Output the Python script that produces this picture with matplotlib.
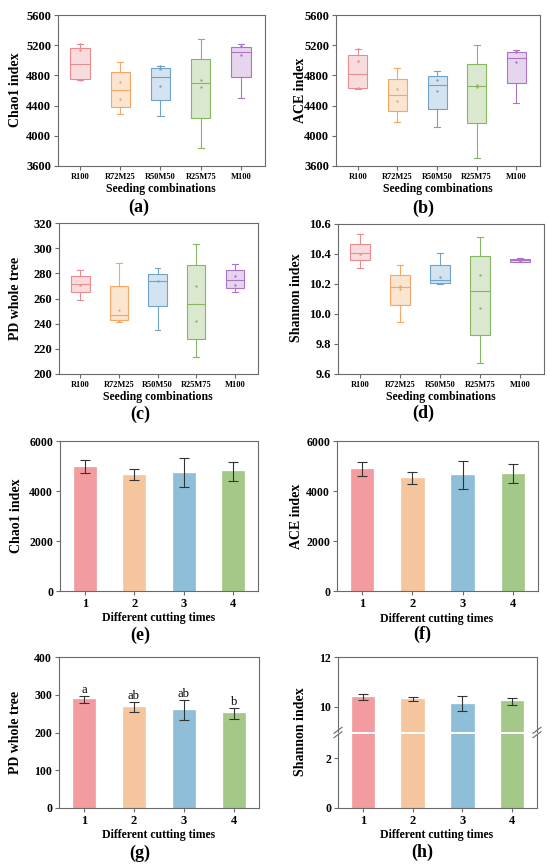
import numpy as np
import matplotlib
matplotlib.use('Agg')
import matplotlib.pyplot as plt
from matplotlib.lines import Line2D
from matplotlib.colors import to_rgba

plt.rcParams['font.family'] = ['Liberation Serif', 'DejaVu Serif']
plt.rcParams['font.weight'] = 'bold'
plt.rcParams['axes.labelweight'] = 'bold'

# ---------------- data ----------------
groups = ['R100', 'R72M25', 'R50M50', 'R25M75', 'M100']
# box stats per group: [whisker low, Q1, median, Q3, whisker high]
chao1_box = [[4740, 4748, 4947, 5167, 5212],
             [4289, 4386, 4602, 4841, 4982],
             [4267, 4470, 4774, 4902, 4929],
             [3834, 4236, 4695, 5013, 5287],
             [4496, 4783, 5114, 5181, 5212]]
chao1_pts = [[5212, 5136, 4740], [4708, 4487], [4920, 4880, 4660],
             [4739, 4642], [5190, 5075]]
ace_box = [[4623, 4632, 4818, 5070, 5145],
           [4181, 4323, 4535, 4756, 4902],
           [4119, 4358, 4667, 4796, 4862],
           [3700, 4164, 4654, 4946, 5207],
           [4429, 4703, 5034, 5114, 5140]]
ace_pts = [[5145, 4995, 4630], [4614, 4460], [4734, 4597],
           [4667, 4641], [5118, 5105, 4972]]
pd_box = [[259.1, 265.2, 271.8, 277.6, 282.9],
          [241.6, 242.6, 247.2, 269.7, 288.5],
          [234.7, 254.0, 273.6, 279.7, 284.2],
          [213.5, 227.5, 255.9, 286.4, 303.0],
          [265.2, 268.3, 274.4, 282.4, 287.7]]
pd_pts = [[270.7], [251.1, 241.9], [274.0], [269.7, 241.9], [277.6, 271.0]]
shannon_box = [[10.310, 10.357, 10.404, 10.466, 10.535],
               [9.950, 10.059, 10.179, 10.257, 10.324],
               [10.201, 10.206, 10.230, 10.326, 10.404],
               [9.676, 9.858, 10.155, 10.388, 10.515],
               [10.345, 10.348, 10.357, 10.365, 10.372]]
shannon_pts = [[10.40], [10.19, 10.168], [10.246], [10.261, 10.039], [10.355]]

cuts = ['1', '2', '3', '4']
chao1_mean = [4978, 4659, 4739, 4792]
chao1_sd = [260, 230, 575, 380]
ace_mean = [4877, 4520, 4639, 4692]
ace_sd = [265, 225, 575, 390]
pd_mean = [287.6, 267.3, 258.4, 250.4]
pd_sd = [10, 13, 26.5, 15]
pd_letters = ['a', 'ab', 'ab', 'b']
shannon_mean = [10.40, 10.315, 10.11, 10.21]
shannon_sd = [0.12, 0.09, 0.30, 0.13]

box_colors = ['#e98c8f', '#f4a765', '#6fa3cc', '#86b661', '#ad74c6']
bar_colors = ['#f29c9f', '#f5c69d', '#8fbfd8', '#a3c887']
spine_col = '#6a6a6a'

# ---------------- layout helpers ----------------
W, H = 550, 867
fig = plt.figure(figsize=(5.5, 8.67), dpi=100)


def rect(l, r, t, b):
    return [l / W, 1 - b / H, (r - l) / W, (b - t) / H]


def style(ax):
    for s in ax.spines.values():
        s.set_color(spine_col)
        s.set_linewidth(0.8)
    ax.tick_params(direction='out', length=3, width=0.8, color=spine_col,
                   top=False, right=False, pad=2)


def labels(ax, xl, yl, xlab_pos, ylab_pos, xfs=8.5, yfs=10):
    ax.set_xlabel(xl, fontsize=xfs, fontweight='bold', va='center')
    ax.set_ylabel(yl, fontsize=yfs, fontweight='bold', va='center')
    ax.xaxis.set_label_coords(xlab_pos[0] / W, 1 - xlab_pos[1] / H,
                              transform=fig.transFigure)
    ax.yaxis.set_label_coords(ylab_pos[0] / W, 1 - ylab_pos[1] / H,
                              transform=fig.transFigure)


def box_panel(r, stats, pts, ylim, yticks, fmt, xl, yl, xlab_pos, ylab_pos,
              tag, tag_pos):
    ax = fig.add_axes(rect(*r))
    pos = np.arange(1, len(groups) + 1)
    bstats = [dict(whislo=s[0], q1=s[1], med=s[2], q3=s[3], whishi=s[4],
                   fliers=[]) for s in stats]
    b = ax.bxp(bstats, positions=pos, widths=0.48, patch_artist=True,
               showfliers=False, capwidths=0.15)
    for i, c in enumerate(box_colors):
        b['boxes'][i].set(facecolor=to_rgba(c, 0.3), edgecolor=c, linewidth=0.8)
        b['medians'][i].set(color=c, linewidth=0.8)
        for k in (2 * i, 2 * i + 1):
            b['whiskers'][k].set(color=c, linewidth=0.8)
            b['caps'][k].set(color=c, linewidth=0.8)
        ax.scatter(np.full(len(pts[i]), pos[i]), pts[i], s=3, color=c,
                   zorder=3, linewidths=0)
    ax.set_xlim(0.45, 5.6)
    ax.set_ylim(*ylim)
    ax.set_yticks(yticks)
    ax.set_yticklabels([fmt.format(v) for v in yticks], fontsize=9,
                       fontweight='bold')
    ax.set_xticks(pos)
    ax.set_xticklabels(groups, fontsize=6, fontweight='bold')
    style(ax)
    labels(ax, xl, yl, xlab_pos, ylab_pos)
    fig.text(tag_pos[0] / W, 1 - tag_pos[1] / H, tag, fontsize=13,
             fontweight='bold', ha='center', va='center')
    return ax


def bar_panel(r, mean, sd, ylim, yticks, xl, yl, xlab_pos, ylab_pos, tag,
              tag_pos, letters=None):
    ax = fig.add_axes(rect(*r))
    pos = np.arange(1, len(cuts) + 1)
    ax.bar(pos, mean, width=0.45, color=bar_colors, edgecolor=bar_colors,
           linewidth=0.5)
    ax.errorbar(pos, mean, yerr=sd, fmt='none', ecolor='#333333',
                elinewidth=0.8, capsize=3.5, capthick=0.8)
    if letters:
        for p, m, s, t in zip(pos, mean, sd, letters):
            ax.annotate(t, (p, m + s), xytext=(0, 0), textcoords='offset points',
                        ha='center', va='bottom', fontsize=9,
                        fontweight='normal')
    ax.set_xlim(0.5, 4.5)
    ax.set_ylim(*ylim)
    ax.set_yticks(yticks)
    ax.set_yticklabels([str(v) for v in yticks], fontsize=8.5,
                       fontweight='bold')
    ax.set_xticks(pos)
    ax.set_xticklabels(cuts, fontsize=9, fontweight='bold')
    style(ax)
    labels(ax, xl, yl, xlab_pos, ylab_pos)
    fig.text(tag_pos[0] / W, 1 - tag_pos[1] / H, tag, fontsize=13,
             fontweight='bold', ha='center', va='center')
    return ax


sc = 'Seeding combinations'
dc = 'Different cutting times'

box_panel((58, 265, 15, 166), chao1_box, chao1_pts, (3600, 5600),
          [3600, 4000, 4400, 4800, 5200, 5600], '{:d}', sc, 'Chao1 index',
          (161, 189), (16, 90), '(a)', (139, 207))
box_panel((336, 540, 15, 166), ace_box, ace_pts, (3600, 5600),
          [3600, 4000, 4400, 4800, 5200, 5600], '{:d}', sc, 'ACE index',
          (438, 189), (300, 90), '(b)', (423, 208))
box_panel((59, 258, 223, 374), pd_box, pd_pts, (200, 320),
          [200, 220, 240, 260, 280, 300, 320], '{:d}', sc, 'PD whole tree',
          (158, 397), (16, 298), '(c)', (140, 414))
box_panel((338, 544, 224, 374), shannon_box, shannon_pts, (9.6, 10.6),
          [9.6, 9.8, 10.0, 10.2, 10.4, 10.6], '{:.1f}', sc, 'Shannon index',
          (441, 397), (297, 298), '(d)', (423, 413))

bar_panel((60, 258, 441, 591), chao1_mean, chao1_sd, (0, 6000),
          [0, 2000, 4000, 6000], dc, 'Chao1 index', (159, 618), (17, 516),
          '(e)', (140, 635))
bar_panel((337, 538, 441, 591), ace_mean, ace_sd, (0, 6000),
          [0, 2000, 4000, 6000], dc, 'ACE index', (437, 619), (297, 516),
          '(f)', (422, 634))
bar_panel((59, 259, 657, 808), pd_mean, pd_sd, (0, 400),
          [0, 100, 200, 300, 400], dc, 'PD whole tree', (159, 835), (16, 732),
          '(g)', (140, 853), letters=pd_letters)

# ---- (h) broken axis ----
l, r, t, b = 338, 537, 657, 808
gap_top, gap_bot = 731.5, 733.5
ax_hi = fig.add_axes(rect(l, r, t, gap_top))
ax_lo = fig.add_axes(rect(l, r, gap_bot, b))
pos = np.arange(1, len(cuts) + 1)
for ax in (ax_hi, ax_lo):
    ax.bar(pos, shannon_mean, width=0.45, color=bar_colors,
           edgecolor=bar_colors, linewidth=0.5)
    ax.set_xlim(0.5, 4.5)
    style(ax)
ax_hi.errorbar(pos, shannon_mean, yerr=shannon_sd, fmt='none',
               ecolor='#333333', elinewidth=0.8, capsize=3.5, capthick=0.8)
ax_hi.set_ylim(9, 12)
ax_hi.set_yticks([10, 12])
ax_hi.set_yticklabels(['10', '12'], fontsize=8.5, fontweight='bold')
ax_hi.spines['bottom'].set_visible(False)
ax_hi.tick_params(bottom=False, labelbottom=False)
ax_lo.set_ylim(0, 3)
ax_lo.set_yticks([0, 2])
ax_lo.set_yticklabels(['0', '2'], fontsize=8.5, fontweight='bold')
ax_lo.spines['top'].set_visible(False)
ax_lo.set_xticks(pos)
ax_lo.set_xticklabels(cuts, fontsize=9, fontweight='bold')
ax_lo.set_xlabel(dc, fontsize=8.5, fontweight='bold', va='center')
ax_lo.xaxis.set_label_coords(437 / W, 1 - 835 / H, transform=fig.transFigure)
ax_lo.set_ylabel('Shannon index', fontsize=10, fontweight='bold', va='center')
ax_lo.yaxis.set_label_coords(300 / W, 1 - 732 / H, transform=fig.transFigure)
fig.text(422 / W, 1 - 852 / H, '(h)', fontsize=13, fontweight='bold',
         ha='center', va='center')
ymid = (gap_top + gap_bot) / 2
for x in (l, r):
    for d in (-2.2, 2.2):
        fig.add_artist(Line2D([(x - 4) / W, (x + 4) / W],
                              [1 - (ymid + d + 3) / H, 1 - (ymid + d - 3) / H],
                              transform=fig.transFigure, color=spine_col,
                              linewidth=0.8))

fig.savefig('out.png', dpi=100)
